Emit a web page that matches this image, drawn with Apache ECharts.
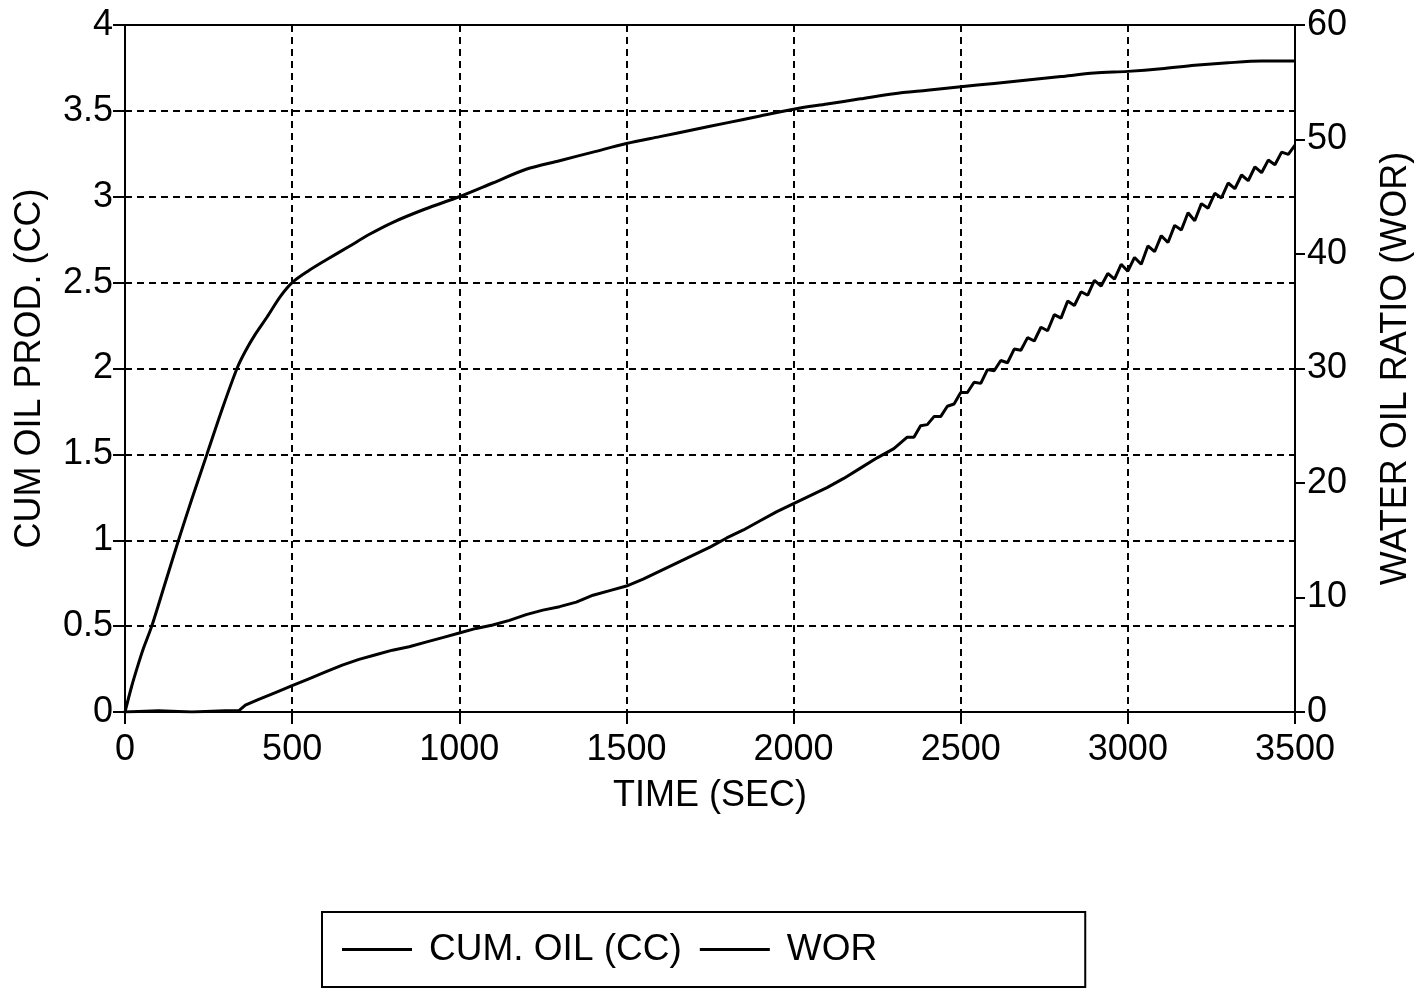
<!DOCTYPE html>
<html>
<head>
<meta charset="utf-8">
<script src="https://cdn.jsdelivr.net/npm/echarts@6/dist/echarts.min.js"></script>
<style>
  html, body { margin: 0; padding: 0; background: #fff; }
  #chart { width: 1425px; height: 991px; }
</style>
</head>
<body>
<div id="chart"></div>
<script>
// Cumulative oil production (cc) versus time (s)
const cumOilTime = [0, 20, 40, 55, 80, 120, 160, 200, 245, 290, 335, 360, 390, 425, 465, 500, 550, 600, 670, 730, 800, 900, 1000, 1100, 1200, 1300, 1400, 1500, 1600, 1700, 1800, 1900, 2000, 2100, 2200, 2300, 2400, 2500, 2600, 2700, 2800, 2900, 3000, 3100, 3200, 3300, 3400, 3500];
const cumOilCC = [0, 0.15, 0.28, 0.37, 0.5, 0.75, 1.0, 1.24, 1.5, 1.76, 2.0, 2.1, 2.2, 2.3, 2.42, 2.5, 2.57, 2.63, 2.71, 2.78, 2.85, 2.93, 3.0, 3.08, 3.16, 3.21, 3.26, 3.31, 3.35, 3.39, 3.43, 3.47, 3.51, 3.54, 3.57, 3.6, 3.62, 3.64, 3.66, 3.68, 3.7, 3.72, 3.73, 3.745, 3.765, 3.78, 3.79, 3.79];

// Water/oil ratio versus time (s); the late record is noisy
const worTime = [0, 100, 200, 300, 340, 360, 400, 450, 500, 550, 600, 650, 700, 750, 800, 850, 900, 950, 1000, 1050, 1100, 1150, 1200, 1250, 1300, 1350, 1400, 1450, 1500, 1550, 1600, 1650, 1700, 1750, 1800, 1850, 1900, 1950, 2000, 2050, 2100, 2150, 2200, 2250, 2300,
  2340, 2360, 2380, 2400, 2420, 2440, 2460, 2480, 2500, 2520, 2540, 2560, 2580, 2600, 2620, 2640, 2660, 2680, 2700, 2720, 2740, 2760, 2780, 2800, 2820, 2840, 2860, 2880, 2900, 2920, 2940, 2960, 2980, 3000,
  3020, 3040, 3060, 3080, 3100, 3120, 3140, 3160, 3180, 3200, 3220, 3240, 3260, 3280, 3300, 3320, 3340, 3360, 3380, 3400, 3420, 3440, 3460, 3480, 3500];
const worValue = [0, 0.1, 0, 0.1, 0.1, 0.6, 1.1, 1.7, 2.3, 2.9, 3.5, 4.1, 4.6, 5.0, 5.4, 5.7, 6.1, 6.5, 6.9, 7.3, 7.6, 8.0, 8.5, 8.9, 9.2, 9.6, 10.2, 10.6, 11.0, 11.6, 12.3, 13.0, 13.7, 14.4, 15.2, 15.9, 16.7, 17.5, 18.2, 18.9, 19.6, 20.4, 21.3, 22.2, 23.0,
  24.0, 24.0, 25.0, 25.1, 25.8, 25.8, 26.7, 26.9, 27.9, 27.9, 28.8, 28.7, 29.9, 29.8, 30.7, 30.5, 31.7, 31.6, 32.7, 32.4, 33.6, 33.3, 34.7, 34.4, 35.9, 35.5, 36.7, 36.4, 37.7, 37.2, 38.3, 37.8, 39.1, 38.5,
  39.7, 39.1, 40.7, 40.2, 41.6, 41.0, 42.5, 42.1, 43.6, 42.9, 44.4, 44.0, 45.3, 44.9, 46.2, 45.7, 46.9, 46.4, 47.6, 47.1, 48.2, 47.8, 48.9, 48.7, 49.5];

// Axis ranges and tick steps
const timeAxis = [0, 3500, 500];
const cumOilAxis = [0, 4, 0.5];
const worAxis = [0, 60, 10];

const seriesNames = ['CUM. OIL (CC)', 'WOR'];

const FONT = "'Liberation Sans', Arial, Helvetica, sans-serif";
const INK = '#000';

const chart = echarts.init(document.getElementById('chart'), null, { renderer: 'canvas' });

const pairs = (xs, ys) => xs.map((x, i) => [x, ys[i]]);
const plain = v => String(v);

const dashed = { color: INK, width: 2, type: [7, 5] };

chart.setOption({
  backgroundColor: '#fff',
  animation: false,
  grid: {
    left: 125, right: 130, top: 25, bottom: 279,
    show: true, borderColor: INK, borderWidth: 2,
    containLabel: false, outerBoundsMode: 'none'
  },
  legend: {
    left: 322, top: 912,
    orient: 'horizontal',
    data: seriesNames,
    icon: 'rect',
    itemWidth: 70, itemHeight: 3,
    itemGap: 18,
    borderColor: INK, borderWidth: 2,
    padding: [19, 208, 19, 20],
    textStyle: { fontFamily: FONT, fontSize: 37, color: INK, padding: [0, 0, 0, 12] }
  },
  xAxis: {
    type: 'value',
    min: timeAxis[0], max: timeAxis[1], interval: timeAxis[2],
    name: 'TIME (SEC)', nameLocation: 'middle', nameGap: 66,
    nameTextStyle: { fontFamily: FONT, fontSize: 36, color: INK },
    axisLine: { show: true, onZero: false, lineStyle: { color: INK, width: 2 } },
    axisTick: { show: true, inside: false, length: 12, lineStyle: { color: INK, width: 2 } },
    axisLabel: { fontFamily: FONT, fontSize: 36, color: INK, margin: 20, formatter: plain },
    splitLine: { show: true, lineStyle: dashed }
  },
  yAxis: [
    {
      type: 'value', position: 'left',
      min: cumOilAxis[0], max: cumOilAxis[1], interval: cumOilAxis[2],
      name: 'CUM OIL PROD. (CC)', nameLocation: 'middle', nameGap: 77, nameRotate: 90,
      nameTextStyle: { fontFamily: FONT, fontSize: 36, color: INK },
      axisLine: { show: true, onZero: false, lineStyle: { color: INK, width: 2 } },
      axisTick: { show: true, inside: false, length: 12, lineStyle: { color: INK, width: 2 } },
      axisLabel: { fontFamily: FONT, fontSize: 36, color: INK, margin: 12, formatter: plain },
      splitLine: { show: true, lineStyle: dashed }
    },
    {
      type: 'value', position: 'right',
      min: worAxis[0], max: worAxis[1], interval: worAxis[2],
      name: 'WATER OIL RATIO (WOR)', nameLocation: 'middle', nameGap: 83, nameRotate: 90,
      nameTextStyle: { fontFamily: FONT, fontSize: 36, color: INK },
      axisLine: { show: true, onZero: false, lineStyle: { color: INK, width: 2 } },
      axisTick: { show: true, inside: false, length: 10, lineStyle: { color: INK, width: 2 } },
      axisLabel: { fontFamily: FONT, fontSize: 36, color: INK, margin: 12, formatter: plain },
      splitLine: { show: false }
    }
  ],
  series: [
    {
      name: seriesNames[0], type: 'line', yAxisIndex: 0,
      data: pairs(cumOilTime, cumOilCC),
      showSymbol: false, symbol: 'none', smooth: 0.3,
      lineStyle: { color: INK, width: 3 }, itemStyle: { color: INK }
    },
    {
      name: seriesNames[1], type: 'line', yAxisIndex: 1,
      data: pairs(worTime, worValue),
      showSymbol: false, symbol: 'none',
      lineStyle: { color: INK, width: 3 }, itemStyle: { color: INK }
    }
  ]
});
</script>
</body>
</html>
